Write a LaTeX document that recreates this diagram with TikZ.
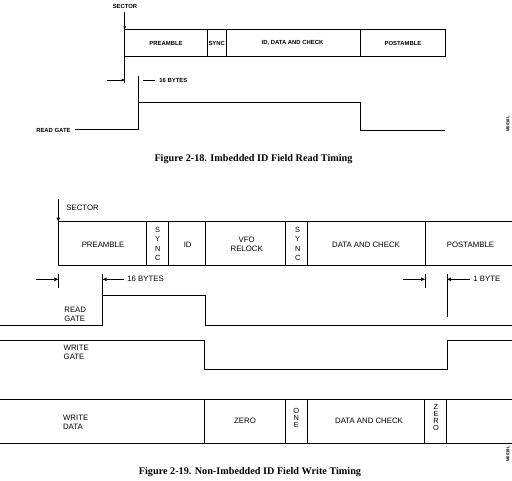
\documentclass[tikz,border=0pt]{standalone}
\usepackage{fontspec}
\setmainfont{Liberation Sans}
\newfontfamily\capfont{Liberation Serif}
\usetikzlibrary{arrows.meta}
\begin{document}
\begin{tikzpicture}[x=1pt,y=-1pt,line width=0.8pt,
  lbl/.style={font=\fontsize{7.8}{9.4}\selectfont,inner sep=0,align=center},
  stk/.style={font=\fontsize{7.4}{#1}\selectfont,inner sep=0,align=center},
  llbl/.style={font=\fontsize{7.8}{9.2}\selectfont,inner sep=0,align=left,anchor=west},
  smlbl/.style={font=\fontsize{5.9}{7}\selectfont\bfseries,inner sep=0},
  tinylbl/.style={font=\fontsize{4.2}{5}\selectfont\bfseries,inner sep=0,rotate=90},
  caption/.style={font=\capfont\fontsize{10.2}{12}\selectfont\bfseries,inner sep=0},
  arr/.style={-{Triangle[length=4pt,width=3.4pt]}},
  sarr/.style={-{Triangle[length=3pt,width=2.6pt]},line width=0.6pt},
  thin/.style={line width=0.6pt}
]
\useasboundingbox (0,0) rectangle (512,480);

%%%%%%%%%%%%%%%% Figure 2-18 %%%%%%%%%%%%%%%%
\node[smlbl] (sectA) at (125,6) {SECTOR};
\coordinate (a0) at (124.7,12);
\coordinate (aTL) at (124.7,29.3);
\coordinate (aBL) at (124.7,56.7);
\coordinate (aTR) at (445.7,29.3);
\coordinate (aBR) at (445.7,56.7);
\draw[sarr] (a0) -- (aTL);
\draw[thin] (aTL) rectangle (aBR);
\foreach \x/\n in {207/a1,226.3/a2,360/a3}{
  \coordinate (\n t) at (\x,29.3);
  \coordinate (\n b) at (\x,56.7);
  \draw[thin] (\n t) -- (\n b);
}
\node[smlbl] (preA) at (166,43) {PREAMBLE};
\node[smlbl] (syncA) at (216.7,43) {SYNC};
\node[smlbl] (idA) at (292.5,43) {ID, DATA AND CHECK};
\node[smlbl] (postA) at (403,43) {POSTAMBLE};

\coordinate (aTick) at (124.7,83);
\draw[thin] (aBL) -- (aTick);
\coordinate (aArr0) at (107,80);
\coordinate (aArr1) at (124.7,80);
\draw[sarr] (aArr0) -- (aArr1);
\coordinate (bT0) at (138,76);
\coordinate (bT1) at (143,80);
\coordinate (bT2) at (155,80);
\draw[thin] (bT1) -- (bT2);
\node[smlbl,anchor=west] (sixA) at (159,80) {16 BYTES};

\node[smlbl,anchor=east] (rgA) at (71,130) {READ GATE};
\coordinate (w0) at (75,129.7);
\coordinate (w1) at (138,129.7);
\coordinate (w2) at (138,102.7);
\coordinate (w3) at (360,102.7);
\coordinate (w4) at (360,130);
\coordinate (w5) at (445,130);
\draw[thin] (bT0) -- (w2);
\draw (w0) -- (w1) -- (w2) -- (w3) -- (w4) -- (w5);

\node[tinylbl] (idA1) at (508,124) {M0018L};
\node[caption] (capA) at (253.5,158.7) {Figure 2-18. Imbedded ID Field Read Timing};

%%%%%%%%%%%%%%%% Figure 2-19 %%%%%%%%%%%%%%%%
\coordinate (s0) at (58.3,199);
\coordinate (bTL) at (58.3,221.7);
\coordinate (bBL) at (58.3,265);
\coordinate (bTR) at (512,221.7);
\coordinate (bBR) at (512,265);
\draw[arr] (s0) -- (bTL);
\node[lbl,anchor=west] (sectB) at (66,208) {SECTOR};
\draw (bTR) -- (bTL) -- (bBL) -- (bBR);
\foreach \x/\n in {146.7/b1,168.3/b2,205/b3,285.7/b4,307.3/b5,425/b6}{
  \coordinate (\n t) at (\x,221.7);
  \coordinate (\n b) at (\x,265);
  \draw (\n t) -- (\n b);
}
\node[lbl] (preB) at (103,244.5) {PREAMBLE};
\node[stk=9.4] (syncB1) at (157.7,244) {S\\Y\\N\\C};
\node[lbl] (idB) at (187.7,244.5) {ID};
\node[lbl,font=\fontsize{7.8}{8.8}\selectfont] (vfoB) at (246.7,244.5) {VFO\\RELOCK};
\node[stk=9.4] (syncB2) at (297.7,244) {S\\Y\\N\\C};
\node[lbl] (dataB) at (366,244.5) {DATA AND CHECK};
\node[lbl] (postB) at (470.5,244.5) {POSTAMBLE};

% timing ticks
\coordinate (t1a) at (58.3,274);
\coordinate (t1b) at (58.3,288);
\draw[thin] (t1a) -- (t1b);
\coordinate (t1c) at (36,279.3);
\coordinate (t1d) at (58.3,279.3);
\draw[arr,thin] (t1c) -- (t1d);

\coordinate (t2a) at (102.7,274);
\coordinate (t2c) at (124,279.3);
\coordinate (t2d) at (102.7,279.3);
\draw[arr,thin] (t2c) -- (t2d);
\node[lbl,anchor=west] (sixB) at (127,279.3) {16 BYTES};

\coordinate (t3a) at (425,274);
\coordinate (t3b) at (425,288);
\draw[thin] (t3a) -- (t3b);
\coordinate (t3c) at (403,279.3);
\coordinate (t3d) at (425,279.3);
\draw[arr,thin] (t3c) -- (t3d);

\coordinate (t4a) at (447,274);
\coordinate (t4b) at (447,317.3);
\draw[thin] (t4a) -- (t4b);
\coordinate (t4c) at (470,279.3);
\coordinate (t4d) at (447,279.3);
\draw[arr,thin] (t4c) -- (t4d);
\node[lbl,anchor=west] (oneB) at (473,279.3) {1 BYTE};

% read gate
\node[llbl] (rgB) at (64,314.2) {READ\\GATE};
\coordinate (r0) at (0,325);
\coordinate (r1) at (102.7,325);
\coordinate (r2) at (102.7,295.7);
\coordinate (r3) at (205,295.7);
\coordinate (r4) at (205,325);
\coordinate (r5) at (512,325);
\draw[thin] (t2a) -- (r2);
\draw (r0) -- (r1) -- (r2) -- (r3) -- (r4) -- (r5);

% write gate
\node[llbl] (wgB) at (63.3,352) {WRITE\\GATE};
\coordinate (g0) at (0,340);
\coordinate (g1) at (204.7,340);
\coordinate (g2) at (204.7,369.3);
\coordinate (g3) at (447,369.3);
\coordinate (g4) at (447,340);
\coordinate (g5) at (512,340);
\draw (g0) -- (g1) -- (g2) -- (g3) -- (g4) -- (g5);

% write data
\coordinate (dTL) at (0,399);
\coordinate (dTR) at (512,399);
\coordinate (dBL) at (0,443.3);
\coordinate (dBR) at (512,443.3);
\draw (dTL) -- (dTR);
\draw (dBL) -- (dBR);
\foreach \x/\n in {204.3/d1,285.3/d2,307.3/d3,424.7/d4,446.7/d5}{
  \coordinate (\n t) at (\x,399);
  \coordinate (\n b) at (\x,443.3);
  \draw (\n t) -- (\n b);
}
\node[llbl] (wdB) at (62.7,422) {WRITE\\DATA};
\node[lbl] (zeroB) at (245,420.7) {ZERO};
\node[stk=6.8] (oneD) at (296.3,417.8) {O\\N\\E};
\node[stk=7.0] (zeroD) at (436,417.6) {Z\\E\\R\\O};
\node[lbl] (dataD) at (369,420.7) {DATA AND CHECK};

\node[tinylbl] (idB1) at (508,454) {M0019L};
\node[caption] (capB) at (250,472.5) {Figure 2-19. Non-Imbedded ID Field Write Timing};
\end{tikzpicture}
\end{document}
